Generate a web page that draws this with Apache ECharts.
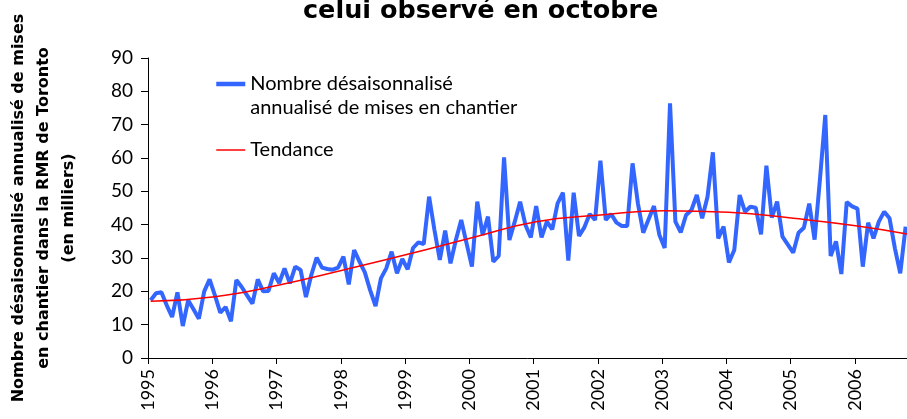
<!DOCTYPE html>
<html style="height: 100%">
<head>
    <meta charset="utf-8">
</head>
<body style="height: 100%; margin: 0; background: #fff">
<div id="container" style="width: 907px; height: 419px"></div>
<script type="text/javascript" src="https://cdn.jsdelivr.net/npm/echarts@6/dist/echarts.min.js"></script>
<script type="text/javascript">
    var dom = document.getElementById("container");
    var myChart = echarts.init(dom);

    // premier mois de la série (janvier 1995)
    var startYear = 1995;
    // années affichées sur l'axe
    var yearLabels = [1995, 1996, 1997, 1998, 1999, 2000, 2001, 2002, 2003, 2004, 2005, 2006];

    // mises en chantier mensuelles, janv. 1995 -> oct. 2006 (milliers)
    var starts = [
        17.3, 19.4, 19.7, 15.8, 12.3, 19.7, 9.6, 17.3, 14.6, 11.8, 20.0, 23.6,
        18.8, 13.6, 15.3, 11.0, 23.4, 21.3, 18.8, 16.3, 23.6, 20.0, 20.1, 25.4,
        22.5, 26.9, 22.4, 27.4, 26.4, 18.3, 24.9, 30.1, 27.1, 26.7, 26.5, 27.1,
        30.4, 22.1, 32.4, 28.9, 25.7, 20.3, 15.6, 23.9, 26.9, 31.9, 25.4, 29.7,
        26.6, 33.0, 34.7, 34.2, 48.4, 38.4, 29.4, 38.2, 28.4, 35.4, 41.4, 34.4,
        27.4, 46.9, 36.9, 42.4, 28.9, 30.6, 60.2, 35.4, 40.9, 46.9, 39.9, 36.2,
        45.6, 36.2, 40.9, 38.6, 46.4, 49.6, 29.2, 49.6, 36.6, 39.2, 43.2, 41.4,
        59.2, 41.4, 43.2, 40.6, 39.6, 39.6, 58.4, 46.4, 37.6, 41.6, 45.6, 37.0,
        33.0, 76.4, 40.9, 37.7, 42.9, 44.4, 48.9, 41.9, 48.4, 61.7, 35.9, 39.4,
        28.7, 32.4, 48.9, 43.9, 45.4, 45.1, 37.1, 57.7, 42.1, 46.9, 36.4, 34.0,
        31.6, 37.6, 39.1, 46.3, 35.5, 53.6, 72.9, 30.6, 35.0, 25.2, 46.8, 45.5,
        44.8, 27.4, 40.6, 35.9, 40.9, 43.9, 41.9, 32.9, 25.4, 39.4
    ];

    // tendance lue tous les 12 mois
    var trendMonths = [0, 12, 24, 36, 48, 60, 72, 84, 96, 108, 120, 132, 142];
    var trendValues = [17.0, 18.4, 21.9, 26.4, 31.1, 36.1, 40.9, 42.9, 44.2, 43.7, 41.9, 39.6, 37.0];

    var seriesNames = ['Nombre désaisonnalisé\nannualisé de mises en chantier', 'Tendance'];

    function monthToX(m) {
        return startYear + (m + 0.5) / 12;
    }

    var startsData = starts.map(function (v, i) {
        return [monthToX(i), v];
    });
    var trendData = trendMonths.map(function (m, i) {
        return [monthToX(m), trendValues[i]];
    });

    var labelFont = 'Lato';

    var option = {
        animation: false,
        backgroundColor: '#fff',
        title: {
            text: 'celui observé en octobre',
            left: 298,
            top: -7,
            textStyle: {
                fontFamily: 'DejaVu Sans',
                fontWeight: 'bold',
                fontSize: 25.5,
                color: '#000'
            }
        },
        legend: {
            orient: 'vertical',
            left: 209,
            top: 43,
            itemWidth: 29,
            itemHeight: 14,
            itemGap: 18,
            itemStyle: {opacity: 0},
            textStyle: {
                fontFamily: labelFont,
                fontSize: 20,
                color: '#000',
                lineHeight: 24
            },
            // ligne vide au-dessus pour aligner l'icône sur la 1re ligne
            formatter: function (name) {
                return name.indexOf('\n') >= 0 ? ' \n' + name : name;
            },
            data: [
                {name: seriesNames[0], lineStyle: {width: 4.5}},
                {name: seriesNames[1], lineStyle: {width: 1.5}}
            ]
        },
        grid: {
            left: 148,
            right: -12,
            top: 58,
            bottom: 61,
            outerBoundsMode: 'none',
            containLabel: false
        },
        xAxis: {
            type: 'value',
            min: startYear,
            max: yearLabels[yearLabels.length - 1] + 1,
            interval: 1,
            splitLine: {show: false},
            axisLine: {lineStyle: {color: '#000', width: 1}},
            axisTick: {length: 6, lineStyle: {color: '#000'}},
            axisLabel: {
                rotate: 90,
                showMaxLabel: false,
                margin: 11,
                fontFamily: labelFont,
                fontSize: 18,
                color: '#000',
                formatter: function (v) {
                    return yearLabels.indexOf(v) >= 0 ? String(v) : '';
                }
            }
        },
        yAxis: {
            type: 'value',
            min: 0,
            max: 90,
            interval: 10,
            name: 'Nombre désaisonnalisé annualisé de mises\nen chantier dans la RMR de Toronto\n(en milliers)',
            nameLocation: 'middle',
            nameRotate: 90,
            nameGap: 67,
            nameTextStyle: {
                fontFamily: 'DejaVu Sans',
                fontWeight: 'bold',
                fontSize: 16,
                lineHeight: 25,
                color: '#000'
            },
            splitLine: {show: false},
            axisLine: {show: true, lineStyle: {color: '#000', width: 1}},
            axisTick: {show: true, length: 7, lineStyle: {color: '#000'}},
            axisLabel: {
                margin: 15,
                fontFamily: labelFont,
                fontSize: 19,
                color: '#000'
            }
        },
        series: [
            {
                name: seriesNames[0],
                type: 'line',
                symbol: 'none',
                data: startsData,
                lineStyle: {color: '#3366ff', width: 4},
                itemStyle: {color: '#3366ff'},
                z: 2
            },
            {
                name: seriesNames[1],
                type: 'line',
                symbol: 'none',
                smooth: true,
                data: trendData,
                lineStyle: {color: '#ff0000', width: 1.5},
                itemStyle: {color: '#ff0000'},
                z: 3
            }
        ]
    };

    myChart.setOption(option, true);
</script>
</body>
</html>
